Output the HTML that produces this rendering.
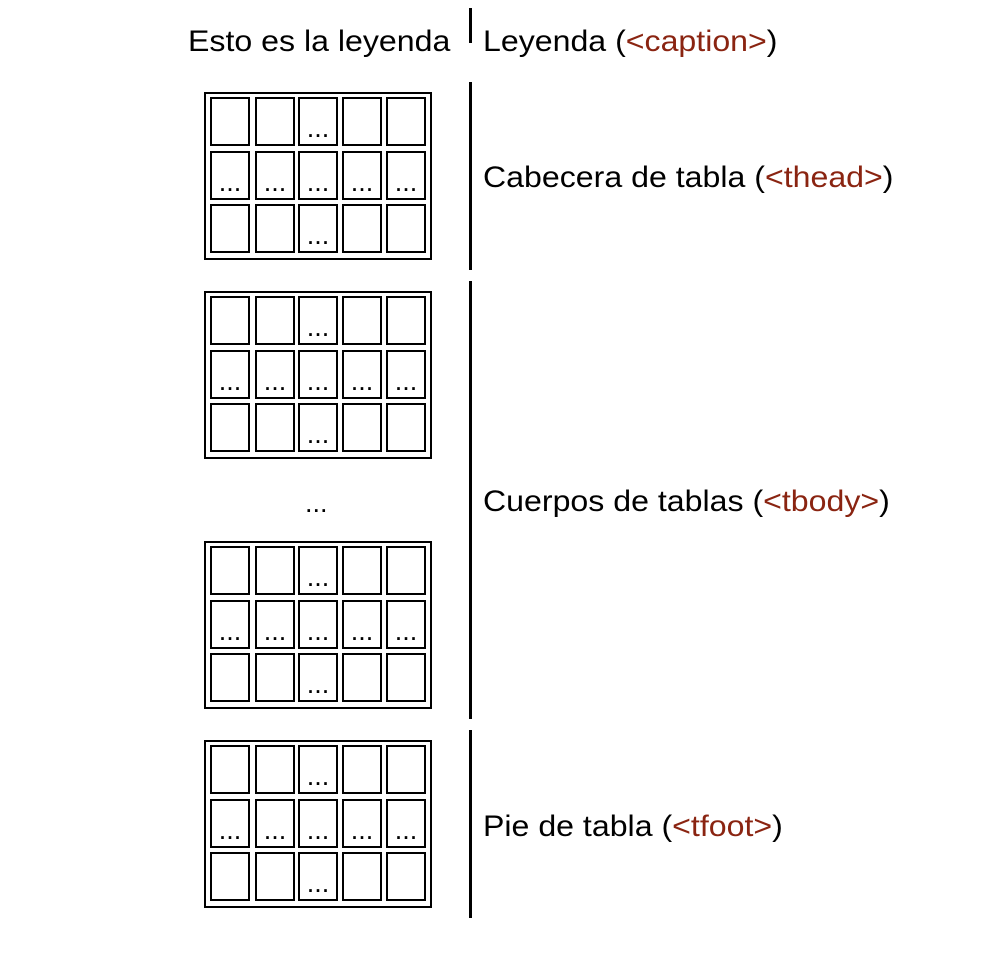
<!DOCTYPE html>
<html><head><meta charset="utf-8"><style>
body{margin:0;width:1004px;height:954px;background:#fff;position:relative;overflow:hidden;font-family:"Liberation Sans",Arial,sans-serif;}
.t{position:absolute;font-size:30px;line-height:30px;color:#000;white-space:nowrap;transform:scaleX(1.07);transform-origin:left top;}
.r{color:#8a2411;}
.v{position:absolute;left:469px;width:3px;background:#000;}
.tb{position:absolute;left:204px;width:224px;height:164px;border:2px solid #000;}
.c{position:absolute;width:36px;height:45px;border:2px solid #000;font-size:27px;text-align:center;line-height:58px;}
</style></head><body>
<div class="t" style="left:188px;top:27px;">Esto es la leyenda</div>
<div class="t" style="left:483px;top:27px;">Leyenda (<span class="r">&lt;caption&gt;</span>)</div>
<div class="t" style="left:483px;top:163px;">Cabecera de tabla (<span class="r">&lt;thead&gt;</span>)</div>
<div class="t" style="left:483px;top:487px;">Cuerpos de tablas (<span class="r">&lt;tbody&gt;</span>)</div>
<div class="t" style="left:483px;top:812px;">Pie de tabla (<span class="r">&lt;tfoot&gt;</span>)</div>
<div class="t" style="left:305px;top:488px;font-size:27px;transform:none;">...</div>
<div class="v" style="top:8px;height:35px;"></div>
<div class="v" style="top:82px;height:188px;"></div>
<div class="v" style="top:281px;height:438px;"></div>
<div class="v" style="top:730px;height:188px;"></div>
<div id="tables"></div>
<script>
var tops=[92,291,541,740],h='';
var xs=[6,51,94,138,182],ys=[5,59,112];
tops.forEach(function(t){
 h+='<div class="tb" style="top:'+t+'px">';
 for(var r=0;r<3;r++)for(var c=0;c<5;c++){
  var txt=(r==1||c==2)?'...':'';
  h+='<div class="c" style="left:'+(xs[c]-2)+'px;top:'+(ys[r]-2)+'px">'+txt+'</div>';
 }
 h+='</div>';
});
document.getElementById('tables').innerHTML=h;
</script>
</body></html>
